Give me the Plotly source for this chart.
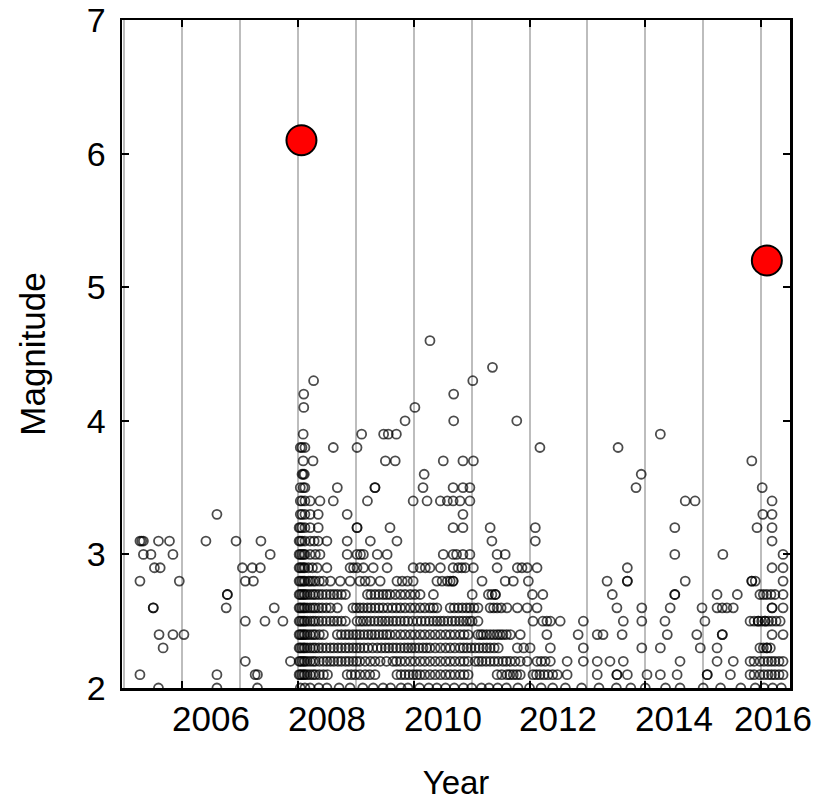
import plotly.graph_objects as go

# ---- data (decimal year, by magnitude row) ----
m20 = [2005.59, 2006.60, 2007.30, 2008.04, 2008.12, 2008.21, 2008.36, 2008.50, 2008.71, 2008.90, 2009.12,
       2009.30, 2009.47, 2009.60, 2009.78, 2009.90, 2010.10, 2010.26, 2010.40, 2010.55, 2010.70, 2010.86,
       2011.00, 2011.17, 2011.30, 2011.45, 2011.60, 2011.80, 2012.00, 2012.20, 2012.40, 2012.62, 2012.90,
       2013.20, 2013.50, 2013.75, 2014.00, 2014.35, 2014.60, 2015.00, 2015.30, 2015.65, 2015.90, 2016.05,
       2016.20, 2016.35]
m21 = [2005.27, 2006.60, 2007.26, 2007.30, 2008.02, 2008.04, 2008.07, 2008.10, 2008.12, 2008.16, 2008.21,
       2008.26, 2008.30, 2008.37, 2008.44, 2008.51, 2008.85, 2008.92, 2008.99, 2009.07, 2009.16, 2009.24,
       2009.33, 2009.71, 2009.78, 2009.85, 2009.92, 2009.99, 2010.05, 2010.11, 2010.19, 2010.28, 2010.37,
       2010.46, 2010.55, 2010.63, 2010.71, 2010.80, 2010.87, 2010.94, 2011.44, 2011.52, 2011.61, 2011.66,
       2011.72, 2011.78, 2011.84, 2012.06, 2012.12, 2012.18, 2012.25, 2012.32, 2012.40, 2012.48, 2012.65,
       2013.17, 2013.51, 2013.51, 2013.69, 2014.03, 2014.26, 2014.55, 2015.07, 2015.07, 2015.47, 2015.81,
       2015.88, 2015.98, 2016.05, 2016.12, 2016.18, 2016.24, 2016.31, 2016.38]
m22 = [2007.09, 2007.87, 2008.02, 2008.04, 2008.07, 2008.10, 2008.12, 2008.16, 2008.21, 2008.26, 2008.30,
       2008.37, 2008.44, 2008.50, 2008.56, 2008.62, 2008.69, 2008.75, 2008.82, 2008.88, 2008.95, 2009.01,
       2009.07, 2009.16, 2009.25, 2009.33, 2009.42, 2009.53, 2009.64, 2009.70, 2009.77, 2009.85, 2009.94,
       2010.02, 2010.11, 2010.19, 2010.28, 2010.37, 2010.46, 2010.55, 2010.63, 2010.71, 2010.80, 2010.87,
       2010.94, 2011.06, 2011.12, 2011.18, 2011.25, 2011.32, 2011.39, 2011.46, 2011.54, 2011.60, 2011.67,
       2011.75, 2011.84, 2011.96, 2012.13, 2012.20, 2012.27, 2012.36, 2012.65, 2012.93, 2013.17, 2013.39,
       2013.62, 2014.60, 2015.24, 2015.52, 2015.81, 2015.88, 2015.98, 2016.05, 2016.12, 2016.18, 2016.24,
       2016.31, 2016.38]
m23 = [2005.67, 2008.02, 2008.04, 2008.07, 2008.10, 2008.12, 2008.16, 2008.21, 2008.26, 2008.30, 2008.36,
       2008.42, 2008.49, 2008.56, 2008.62, 2008.69, 2008.75, 2008.82, 2008.88, 2008.95, 2009.01, 2009.07,
       2009.14, 2009.21, 2009.29, 2009.37, 2009.44, 2009.51, 2009.57, 2009.64, 2009.70, 2009.77, 2009.84,
       2009.90, 2009.96, 2010.02, 2010.09, 2010.16, 2010.22, 2010.28, 2010.37, 2010.46, 2010.55, 2010.63,
       2010.71, 2010.80, 2010.86, 2010.92, 2010.99, 2011.06, 2011.13, 2011.20, 2011.26, 2011.32, 2011.39,
       2011.46, 2011.79, 2011.90, 2012.01, 2012.36, 2012.93, 2013.94, 2014.26, 2014.95, 2015.24, 2015.98,
       2016.04, 2016.10, 2016.10, 2016.16]
m24 = [2005.60, 2005.84, 2006.03, 2008.02, 2008.04, 2008.07, 2008.10, 2008.12, 2008.16, 2008.21, 2008.26,
       2008.30, 2008.37, 2008.44, 2008.68, 2008.75, 2008.82, 2008.88, 2008.95, 2009.01, 2009.07, 2009.14,
       2009.21, 2009.27, 2009.33, 2009.40, 2009.47, 2009.53, 2009.59, 2009.68, 2009.77, 2009.85, 2009.94,
       2010.02, 2010.11, 2010.19, 2010.28, 2010.37, 2010.46, 2010.55, 2010.63, 2010.71, 2010.80, 2010.87,
       2010.94, 2011.11, 2011.16, 2011.20, 2011.26, 2011.32, 2011.38, 2011.44, 2011.49, 2011.54, 2011.60,
       2011.67, 2011.84, 2012.30, 2012.84, 2013.17, 2013.27, 2013.60, 2014.38, 2014.89, 2015.33, 2015.33,
       2016.19, 2016.38]
m25 = [2007.09, 2007.43, 2007.74, 2008.02, 2008.04, 2008.07, 2008.10, 2008.12, 2008.16, 2008.21, 2008.26,
       2008.30, 2008.36, 2008.42, 2008.49, 2008.56, 2008.62, 2008.68, 2008.75, 2008.82, 2009.02, 2009.08,
       2009.13, 2009.19, 2009.25, 2009.32, 2009.39, 2009.45, 2009.51, 2009.57, 2009.64, 2009.70, 2009.77,
       2009.84, 2009.90, 2009.98, 2010.06, 2010.13, 2010.20, 2010.27, 2010.34, 2010.40, 2010.46, 2010.52,
       2010.59, 2010.66, 2010.72, 2010.79, 2010.85, 2010.91, 2010.97, 2011.01, 2011.11, 2012.06, 2012.23,
       2012.30, 2012.36, 2012.53, 2012.93, 2013.62, 2013.94, 2014.34, 2015.03, 2015.81, 2015.88, 2015.95,
       2015.95, 2016.01, 2016.07, 2016.07, 2016.13, 2016.19, 2016.26, 2016.33]
m26 = [2005.50, 2005.50, 2006.76, 2007.59, 2008.02, 2008.04, 2008.07, 2008.10, 2008.12, 2008.16, 2008.21,
       2008.26, 2008.30, 2008.36, 2008.42, 2008.49, 2008.56, 2008.68, 2008.95, 2009.01, 2009.07, 2009.13,
       2009.20, 2009.26, 2009.33, 2009.40, 2009.47, 2009.55, 2009.63, 2009.70, 2009.77, 2009.85, 2009.94,
       2010.02, 2010.11, 2010.19, 2010.28, 2010.34, 2010.40, 2010.63, 2010.70, 2010.77, 2010.84, 2010.91,
       2010.97, 2011.04, 2011.11, 2011.32, 2011.38, 2011.44, 2011.51, 2011.61, 2011.79, 2011.96, 2012.13,
       2013.51, 2013.94, 2014.43, 2014.98, 2015.24, 2015.33, 2015.41, 2015.52, 2016.19, 2016.19, 2016.38]
m27 = [2006.78, 2006.78, 2008.02, 2008.04, 2008.07, 2008.10, 2008.12, 2008.16, 2008.21, 2008.26, 2008.30,
       2008.36, 2008.42, 2008.49, 2008.56, 2008.62, 2008.68, 2008.75, 2008.82, 2009.20, 2009.26, 2009.33,
       2009.40, 2009.47, 2009.53, 2009.59, 2009.68, 2009.77, 2009.85, 2009.94, 2010.02, 2010.11, 2010.34,
       2011.01, 2011.29, 2011.35, 2011.41, 2011.41, 2012.05, 2012.23, 2013.43, 2014.51, 2014.51, 2015.24,
       2015.59, 2015.98, 2016.04, 2016.10, 2016.17, 2016.24, 2016.38]
m28 = [2005.27, 2005.95, 2007.09, 2007.23, 2008.02, 2008.04, 2008.07, 2008.10, 2008.12, 2008.18, 2008.21,
       2008.26, 2008.30, 2008.37, 2008.44, 2008.56, 2008.73, 2008.90, 2009.07, 2009.16, 2009.25, 2009.42,
       2009.71, 2009.80, 2009.89, 2009.99, 2010.40, 2010.49, 2010.58, 2010.63, 2010.68, 2010.68, 2011.18,
       2011.58, 2011.72, 2011.98, 2013.34, 2013.69, 2013.69, 2014.69, 2015.84, 2015.84, 2015.90, 2016.38]
m29 = [2005.52, 2005.62, 2007.04, 2007.21, 2007.35, 2008.02, 2008.04, 2008.07, 2008.10, 2008.12, 2008.18,
       2008.25, 2008.33, 2008.50, 2008.90, 2008.96, 2009.02, 2009.13, 2009.30, 2009.54, 2009.99, 2010.11,
       2010.20, 2010.28, 2010.46, 2010.68, 2010.77, 2010.83, 2010.89, 2011.03, 2011.44, 2011.79, 2011.87,
       2011.96, 2012.13, 2013.69, 2016.19, 2016.38]
m30 = [2005.33, 2005.46, 2005.84, 2007.52, 2008.02, 2008.04, 2008.07, 2008.10, 2008.12, 2008.21, 2008.30,
       2008.38, 2008.85, 2009.02, 2009.08, 2009.13, 2009.37, 2009.54, 2010.51, 2010.68, 2010.74, 2010.85,
       2010.97, 2011.44, 2011.58, 2014.51, 2015.34, 2016.38]
m31 = [2005.27, 2005.30, 2005.33, 2005.59, 2005.78, 2006.41, 2006.93, 2007.36, 2008.02, 2008.04, 2008.07,
       2008.12, 2008.21, 2008.28, 2008.35, 2008.50, 2008.85, 2009.25, 2009.71, 2011.35, 2012.10, 2016.19]
m32 = [2008.02, 2008.04, 2008.07, 2008.12, 2008.21, 2008.35, 2009.02, 2009.02, 2009.59, 2010.68, 2010.85,
       2011.32, 2012.10, 2014.51, 2015.93, 2016.19]
m33 = [2006.60, 2008.04, 2008.07, 2008.12, 2008.21, 2008.35, 2008.85, 2010.85, 2016.03, 2016.19]
m34 = [2008.04, 2008.07, 2008.12, 2008.21, 2008.38, 2008.61, 2009.20, 2009.99, 2010.23, 2010.46, 2010.58,
       2010.68, 2010.80, 2010.97, 2014.69, 2014.86, 2016.19]
m35 = [2008.04, 2008.09, 2008.12, 2008.68, 2009.33, 2009.33, 2010.16, 2010.68, 2010.85, 2010.97, 2013.84,
       2016.02]
m36 = [2008.07, 2008.09, 2008.11, 2010.18, 2013.93]
m37 = [2008.09, 2008.26, 2009.51, 2009.68, 2010.51, 2010.85, 2011.03, 2015.84]
m38 = [2008.04, 2008.07, 2008.12, 2008.61, 2009.02, 2012.18, 2013.53]
m39 = [2008.09, 2009.10, 2009.48, 2009.56, 2009.70, 2014.26]
m40 = [2009.85, 2010.69, 2011.78]
m41 = [2008.10, 2010.02]
m42 = [2008.10, 2010.69]
m43 = [2008.27, 2011.02]
m44 = [2011.36]
m46 = [2010.28]

row_mags = [2.0, 2.1, 2.2, 2.3, 2.4, 2.5, 2.6, 2.7, 2.8, 2.9, 3.0, 3.1, 3.2, 3.3, 3.4, 3.5, 3.6, 3.7, 3.8,
            3.9, 4.0, 4.1, 4.2, 4.3, 4.4, 4.6]
row_years = [m20, m21, m22, m23, m24, m25, m26, m27, m28, m29, m30, m31, m32, m33, m34, m35, m36, m37, m38,
             m39, m40, m41, m42, m43, m44, m46]

big_years = [2008.06, 2016.10]
big_mags = [6.1, 5.2]

grid_years = [2005, 2006, 2007, 2008, 2009, 2010, 2011, 2012, 2013, 2014, 2015, 2016]
major_years = [2006, 2008, 2010, 2012, 2014, 2016]
label_pos = [2006.5, 2008.5, 2010.5, 2012.5, 2014.5, 2016.2]
label_text = ["2006", "2008", "2010", "2012", "2014", "2016"]
ytick_vals = [2, 3, 4, 5, 6, 7]

# ---- build ----
xs, ys = [], []
for mag, yrs in zip(row_mags, row_years):
    for yr in yrs:
        xs.append(yr)
        ys.append(mag)

FONT = "Liberation Sans, Arial, Helvetica, sans-serif"
FS = 34

fig = go.Figure()
fig.add_trace(go.Scatter(
    x=xs, y=ys, mode="markers",
    marker=dict(symbol="circle-open", size=9, color="rgba(0,0,0,0.7)", line=dict(width=1.8)),
    hoverinfo="skip"))
fig.add_trace(go.Scatter(
    x=big_years, y=big_mags, mode="markers",
    marker=dict(symbol="circle", size=30, color="#ff0000", line=dict(color="black", width=2)),
    hoverinfo="skip"))

for pos, txt in zip(label_pos, label_text):
    fig.add_annotation(x=pos, y=0, xref="x", yref="paper", text=txt, showarrow=False,
                       xanchor="center", yanchor="top", yshift=-9,
                       font=dict(family=FONT, size=35, color="black"))

fig.update_layout(
    width=816, height=801,
    margin=dict(l=122, r=26, t=20, b=113),
    plot_bgcolor="white", paper_bgcolor="white",
    showlegend=False,
    font=dict(family=FONT, size=FS, color="black"),
)
fig.update_xaxes(
    range=[2004.96, 2016.5],
    tickvals=major_years, showticklabels=False,
    ticks="inside", ticklen=7, tickwidth=2, tickcolor="black",
    showline=True, linecolor="black", linewidth=2.5, mirror="ticks",
    showgrid=True, gridcolor="#bdbdbd", gridwidth=2,
    minor=dict(tickvals=grid_years, showgrid=True, gridcolor="#bdbdbd", gridwidth=2, ticks=""),
    zeroline=False,
    title=dict(text="Year", font=dict(family=FONT, size=33), standoff=85),
    automargin=False,
)
fig.update_yaxes(
    range=[2, 7], tickvals=ytick_vals,
    ticks="inside", ticklen=7, tickwidth=2, tickcolor="black",
    showline=True, linecolor="black", linewidth=2.5, mirror="ticks",
    showgrid=False, zeroline=False,
    tickfont=dict(family=FONT, size=FS),
    ticklabelstandoff=7, ticklabeloverflow="allow",
    title=dict(text="Magnitude", font=dict(family=FONT, size=35), standoff=31),
    automargin=False,
)

# remove the default 8px page margin so the 816x801 figure fills the window exactly
fig.write_html("out.html",
               config={"displayModeBar": False, "staticPlot": True},
               post_script="document.body.style.margin='0';document.body.style.overflow='hidden';")
